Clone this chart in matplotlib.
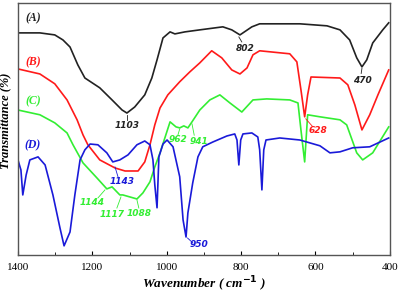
import matplotlib
matplotlib.use("Agg")
import matplotlib.pyplot as plt

# FTIR spectra, wavenumber (cm-1) vs. transmittance (arbitrary offset units)
wn_a = [1400, 1341, 1301, 1279, 1260, 1239, 1220, 1180, 1147, 1120, 1107, 1086, 1059, 1040,
        1026, 1010, 991, 978, 951, 911, 849, 825, 803, 787, 771, 750, 642, 569, 534, 508,
        489, 475, 462, 446, 419, 403]
t_a = [88.1, 88.1, 87.3, 85.3, 82.5, 75.4, 70.2, 66.3, 61.5, 57.5, 56.3, 58.7, 63.5, 70.2,
       77.4, 86.1, 88.5, 87.7, 88.5, 89.3, 90.5, 89.3, 87.3, 88.9, 90.5, 91.7, 91.7, 90.9,
       89.3, 85.3, 78.2, 74.6, 77.4, 84.1, 89.3, 92.1]

wn_b = [1400, 1341, 1301, 1268, 1241, 1225, 1212, 1180, 1139, 1112, 1077, 1059, 1045, 1032,
        1018, 997, 965, 938, 911, 879, 852, 825, 803, 784, 768, 750, 669, 650, 639, 629,
        621, 612, 534, 513, 494, 475, 454, 432, 403]
t_b = [73.8, 71.8, 67.9, 61.5, 53.6, 47.6, 43.7, 37.7, 34.5, 33.3, 33.3, 36.9, 43.7, 51.6,
       58.3, 63.5, 68.7, 72.6, 76.2, 81.0, 78.2, 73.4, 71.8, 74.2, 79.4, 81.0, 79.8, 76.6,
       65.5, 54.8, 63.5, 70.6, 70.2, 67.5, 59.5, 49.6, 55.6, 63.5, 73.4]

wn_c = [1400, 1341, 1301, 1268, 1252, 1225, 1188, 1161, 1147, 1126, 1118, 1099, 1080, 1064,
        1045, 1032, 1018, 1005, 991, 975, 965, 954, 943, 932, 911, 884, 857, 830, 798, 768,
        731, 669, 647, 639, 629, 621, 588, 534, 516, 489, 473, 446, 403]
t_c = [57.5, 55.6, 52.4, 48.4, 43.7, 36.5, 30.6, 26.2, 27.0, 23.8, 23.8, 23.0, 22.2, 24.6,
       29.0, 34.9, 40.5, 46.4, 52.8, 50.8, 50.4, 51.2, 50.4, 52.8, 57.5, 61.5, 63.5, 60.3,
       56.7, 61.5, 61.9, 61.5, 60.3, 49.6, 36.9, 55.6, 54.8, 53.6, 51.6, 40.5, 37.7, 40.5,
       50.8]

wn_d = [1400, 1392, 1387, 1378, 1368, 1346, 1327, 1306, 1287, 1276, 1260, 1247, 1233, 1220,
        1206, 1185, 1161, 1145, 1126, 1104, 1080, 1059, 1045, 1037, 1032, 1026, 1021, 1010,
        999, 983, 965, 956, 948, 943, 930, 916, 903, 876, 838, 817, 811, 806, 801, 795, 771,
        755, 750, 744, 739, 733, 696, 642, 588, 561, 534, 500, 454, 403]
t_d = [37.7, 33.7, 23.8, 31.7, 37.7, 38.9, 35.7, 23.8, 10.7, 3.6, 9.1, 23.8, 37.7, 41.7,
       44.0, 43.7, 40.5, 36.9, 37.7, 39.7, 43.7, 45.2, 43.7, 37.7, 27.8, 18.7, 38.9, 44.0,
       45.6, 42.9, 31.0, 13.9, 7.1, 16.7, 28.6, 38.9, 42.9, 44.8, 47.2, 48.0, 45.6, 35.7,
       45.6, 48.0, 48.4, 46.8, 41.7, 25.8, 41.7, 45.6, 46.4, 45.6, 43.3, 40.5, 40.9, 42.5,
       42.9, 46.4]

c_a, c_b, c_c, c_d = "#222222", "#ff1a1a", "#33ee33", "#1a1ad9"

# peak labels: text, text position, leader line start/end, colour
peaks = [
    ("1103", (1107, 51.2), (1107, 55.6), (1107, 53.6), c_a),
    ("802", (790, 82.0), (806, 86.5), (798, 84.5), c_a),
    ("470", (475, 69.4), (475, 74.0), (477, 72.0), c_a),
    ("628", (594, 49.2), (626, 54.0), (608, 51.0), c_b),
    ("962", (970, 45.6), (965, 50.0), (970, 47.5), c_c),
    ("941", (914, 45.2), (932, 52.0), (926, 47.5), c_c),
    ("1143", (1120, 29.0), (1139, 34.9), (1131, 31.0), c_d),
    ("1144", (1201, 20.6), (1166, 25.8), (1185, 22.6), c_c),
    ("1117", (1147, 15.9), (1123, 23.0), (1134, 18.6), c_c),
    ("1088", (1075, 16.3), (1080, 21.8), (1075, 18.6), c_c),
    ("950", (914, 4.0), (944, 6.7), (930, 4.8), c_d),
]

fig = plt.figure(figsize=(3.99, 2.90), dpi=100)
ax = fig.add_axes([0.045, 0.121, 0.932, 0.869])

for wn, t, c in [(wn_a, t_a, c_a), (wn_b, t_b, c_b), (wn_c, t_c, c_c), (wn_d, t_d, c_d)]:
    ax.plot(wn, t, color=c, lw=1.2)

lab_font = dict(family="Liberation Serif", weight="bold", style="italic", fontsize=8.5)
for s, y, c in [("(A)", 94.0, c_a), ("(B)", 76.6, c_b), ("(C)", 61.0, c_c), ("(D)", 43.6, c_d)]:
    ax.text(1360, y, s, color=c, ha="center", va="center", **lab_font)

for s, pos, p0, p1, c in peaks:
    ax.plot([p0[0], p1[0]], [p0[1], p1[1]], color=c, lw=0.6)
    ax.text(pos[0], pos[1], s, color=c, ha="center", va="center", fontsize=6.5,
            family="DejaVu Sans", weight="bold", style="italic")

ax.set_xlim(1400, 400)
ax.set_ylim(0, 100)
ax.set_xticks([1400, 1200, 1000, 800, 600, 400])
ax.set_xticks([1300, 1100, 900, 700, 500], minor=True)
ax.set_yticks([])
ax.tick_params(axis="x", direction="in", length=3, labelsize=8, pad=6)
ax.tick_params(axis="x", which="minor", direction="in", length=2)
for lbl in ax.get_xticklabels():
    lbl.set_family("Liberation Serif")
for sp in ax.spines.values():
    sp.set_color("#555555")
    sp.set_linewidth(1.0)

ax.set_xlabel("Wavenumber ( cm$^{\\mathbf{-1}}$ )", family="Liberation Serif",
              weight="bold", style="italic", fontsize=9.5, labelpad=2)
fig.text(0.012, 0.583, "Transmittance (%)", rotation=90, ha="center", va="center",
         family="Liberation Serif", weight="bold", style="italic", fontsize=9)

fig.savefig("out.png", dpi=100)
